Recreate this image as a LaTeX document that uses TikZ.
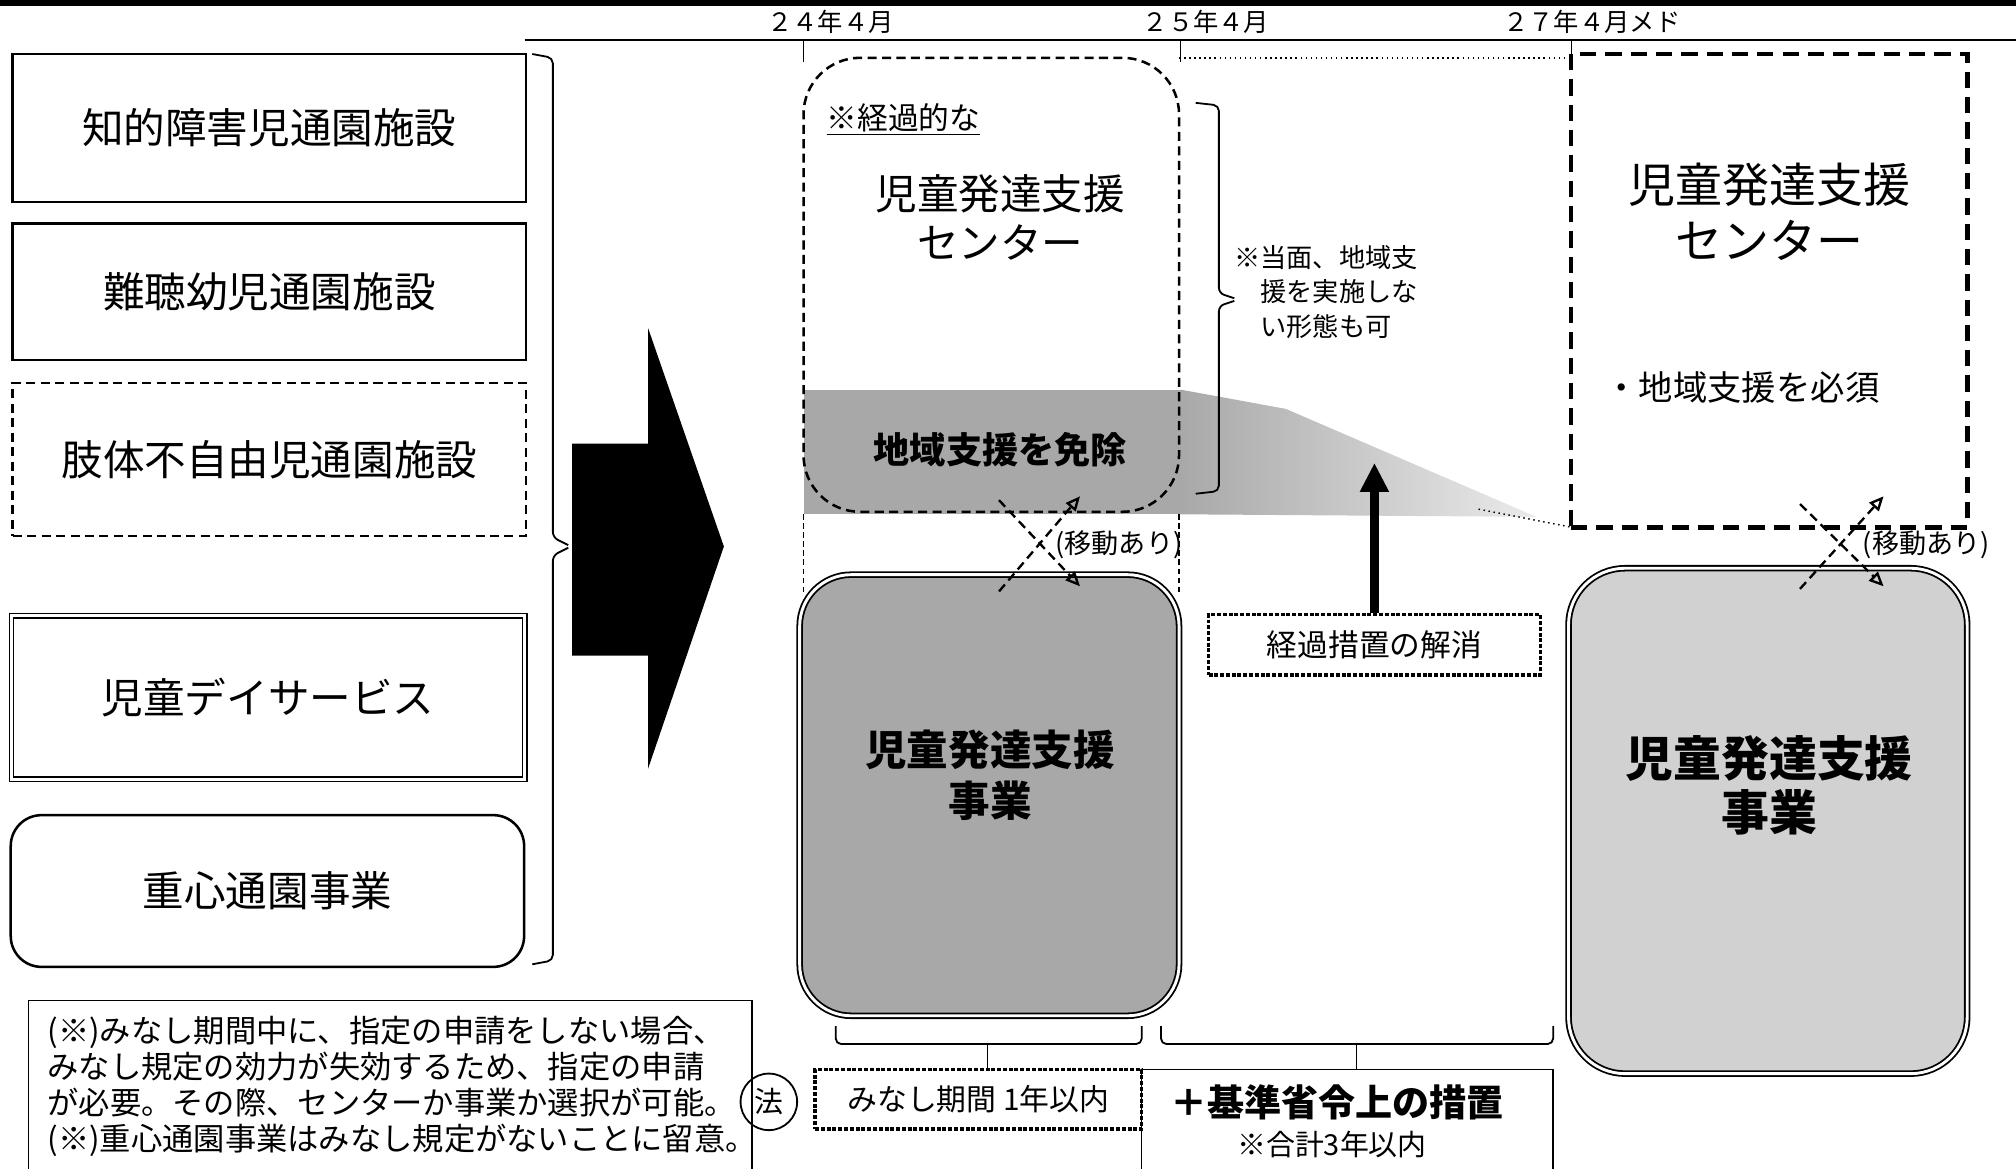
\documentclass[tikz,border=0pt]{standalone}
\usepackage{fontspec}
\setmainfont{Noto Sans CJK JP}
\usepackage{tikz}
\usetikzlibrary{arrows.meta, positioning, calc}

\begin{document}
\begin{tikzpicture}[x=0.025cm, y=-0.025cm,
    oldbox/.style={draw, line width=1.4pt, minimum width=9.98cm, font=\fontsize{23}{28}\selectfont},
    movearrow/.style={line width=1.3pt, dash pattern=on 5pt off 3pt, -{Triangle[open,length=8pt,width=7pt]}},
    movelabel/.style={anchor=west, font=\fontsize{15}{18}\selectfont},
    dotbox/.style={draw, line width=1.8pt, dash pattern=on 2.2pt off 1pt, inner sep=0pt},
    brk/.style={line width=1pt, rounded corners=3pt}]
    \useasboundingbox (0,0) rectangle (1568,909);

    % Intestazione
    \fill (0,0) rectangle (1568,5);
    \draw[line width=0.8pt] (408,31) -- (1568,31);
    \node[font=\fontsize{14}{16}\selectfont] (t24) at (646,17) {２４年４月};
    \node[font=\fontsize{14}{16}\selectfont] (t25) at (938,17) {２５年４月};
    \node[font=\fontsize{14}{16}\selectfont] (t27) at (1238,17) {２７年４月メド};
    \draw (625,31) -- (625,48);
    \draw (918,31) -- (918,48);
    \draw (1222,31) -- (1222,42);

    % Colonna sinistra
    \node[oldbox, minimum height=2.875cm] (chiteki) at (209.5,99.5) {知的障害児通園施設};
    \node[oldbox, minimum height=2.65cm] (nancho) at (209.5,227) {難聴幼児通園施設};
    \node[oldbox, minimum height=2.975cm, dash pattern=on 5pt off 3pt] (shitai) at (209.5,357.5) {肢体不自由児通園施設};
    \node[oldbox, minimum height=3.175cm, line width=0.8pt, double, double distance=1.5pt] (dayservice) at (208.5,542.5) {児童デイサービス};
    \node[oldbox, minimum height=2.95cm, rounded corners=0.6cm] (jushin) at (208,693) {重心通園事業};
    \draw[brk] (414,42) -- (430,45) -- (430,418) -- (442,424);
    \draw[brk] (442,426) -- (430,432) -- (430,747) -- (414,750);

    % Freccia
    \fill (445,345) -- (504,345) -- (504,255) -- (563,425) -- (504,598) -- (504,510) -- (445,510) -- cycle;

    % Centro (24年4月)
    \fill[black!34] (625,303) rectangle (918,400);
    \shade[left color=black!34, right color=black!8] (918,303) -- (1000,318) -- (1195,402) -- (918,400) -- cycle;
    \draw[dotted, line width=0.8pt] (1150,396) -- (1222,410);
    \draw[dotted, line width=0.8pt] (917,45) -- (1222,45);
    \node[draw, line width=1.4pt, dash pattern=on 5pt off 3pt, rounded corners=1.1cm,
          minimum width=7.3cm, minimum height=8.825cm] (center) at (771,221.5) {};
    \node[anchor=west, font=\fontsize{17}{20}\selectfont] (keikateki) at (638,93) {\underline{※経過的な}};
    \node[align=center, font=\fontsize{23}{27}\selectfont] (centertitle) at (778,169) {児童発達支援\\センター};
    \node[font=\bfseries\fontsize{20}{24}\selectfont] (menjo) at (778,350) {地域支援を免除};
    \draw[brk] (930,80) -- (948,82) -- (948,228) -- (960,232);
    \draw[brk] (960,234) -- (948,238) -- (948,382) -- (930,384);
    \node[anchor=west, align=left, font=\fontsize{14.5}{19}\selectfont] (toumen) at (955,227)
        {※当面、地域支\\\hspace{1em}援を実施しな\\\hspace{1em}い形態も可};

    \node[draw, line width=1pt, double, double distance=1.6pt, rounded corners=1cm, fill=black!34,
          minimum width=7.375cm, minimum height=8.575cm] (jigyo) at (769.5,618.5) {};
    \node[align=center, font=\bfseries\fontsize{23}{28}\selectfont] (jigyotitle) at (770,603) {児童発達支援\\事業};
    \draw[dash pattern=on 3pt off 2pt, line width=0.6pt] (625,400) -- (625,462);
    \draw[dash pattern=on 3pt off 2pt, line width=0.6pt] (917,400) -- (917,462);

    \coordinate (m1a) at (777,389);
    \coordinate (m1b) at (840,456);
    \coordinate (m1c) at (777,460);
    \coordinate (m1d) at (840,386);
    \draw[movearrow] (m1a) -- (m1b);
    \draw[movearrow] (m1c) -- (m1d);
    \node[movelabel] (ido1) at (816,424) {(移動あり)};

    % Eliminazione
    \node[dotbox, minimum width=6.45cm, minimum height=1.175cm, font=\fontsize{17}{20}\selectfont] (kaisho) at (1069,501.5) {経過措置の解消};
    \coordinate (uptip) at (1069,360);
    \draw[line width=4.5pt, -{Triangle[length=16pt,width=15pt]}] (kaisho.north) -- (uptip);

    % Destra (27年4月)
    \node[draw, line width=2.6pt, dash pattern=on 9pt off 5pt,
          minimum width=7.7cm, minimum height=9.2cm] (centerR) at (1376,226) {};
    \node[align=center, font=\fontsize{26}{31}\selectfont] (centerRtitle) at (1376,165) {児童発達支援\\センター};
    \node[anchor=west, font=\fontsize{19}{22}\selectfont] (hissu) at (1243,301) {・地域支援を必須};
    \node[draw, line width=1pt, double, double distance=1.6pt, rounded corners=1.1cm, fill=black!18,
          minimum width=7.75cm, minimum height=9.825cm] (jigyoR) at (1375,638.5) {};
    \node[align=center, font=\bfseries\fontsize{26.5}{30}\selectfont] (jigyoRtitle) at (1376,611) {児童発達支援\\事業};

    \coordinate (m2a) at (1400,392);
    \coordinate (m2b) at (1465,456);
    \coordinate (m2c) at (1400,458);
    \coordinate (m2d) at (1465,386);
    \draw[movearrow] (m2a) -- (m2b);
    \draw[movearrow] (m2c) -- (m2d);
    \node[movelabel] (ido2) at (1444,424) {(移動あり)};

    % Periodi
    \draw[brk] (650,798) -- (650,812) -- (888,812) -- (888,798);
    \draw (768,812) -- (768,832);
    \draw[brk] (903,798) -- (903,812) -- (1208,812) -- (1208,798);
    \draw (1055,812) -- (1055,832);
    \node[draw, circle, line width=1pt, minimum size=1.1cm, inner sep=0pt, font=\fontsize{16}{18}\selectfont] (hou) at (598,857) {法};
    \node[dotbox, minimum width=6.35cm, minimum height=1.15cm, font=\fontsize{16.5}{19}\selectfont] (minashi) at (761,855) {みなし期間 1年以内};
    \draw[line width=0.8pt] (888,909) -- (888,832) -- (1208,832) -- (1208,909);
    \node[font=\bfseries\fontsize{20.5}{24}\selectfont] (kijun) at (1040,857) {＋基準省令上の措置};
    \node[font=\fontsize{16}{19}\selectfont] (goukei) at (1036,890) {※合計3年以内};

    % Note
    \draw[line width=0.8pt] (22,909) -- (22,778) -- (585,778) -- (585,909);
    \node[anchor=west, align=left, font=\fontsize{17.3}{19.9}\selectfont] (note) at (32,845)
        {(※)みなし期間中に、指定の申請をしない場合、\\みなし規定の効力が失効するため、指定の申請\\が必要。その際、センターか事業か選択が可能。\\(※)重心通園事業はみなし規定がないことに留意。};
\end{tikzpicture}
\end{document}
